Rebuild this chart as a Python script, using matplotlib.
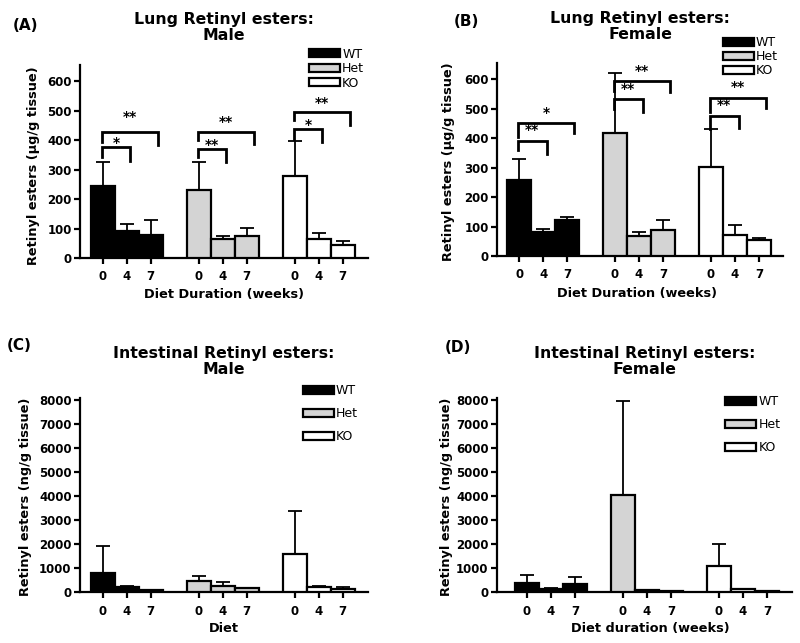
import matplotlib
matplotlib.use("Agg")
import matplotlib.pyplot as plt
from matplotlib.patches import Patch
import numpy as np

plt.rcParams['font.family'] = ['DejaVu Sans']

genotypes = ["WT", "Het", "KO"]
week_labels = ["0", "4", "7"]
fill_colors = ["black", "#d4d4d4", "white"]

# (A) Lung retinyl esters, male (ug/g tissue): mean and mean+SD per genotype, weeks 0/4/7
lung_male_mean = [[243, 90, 78], [230, 65, 73], [278, 63, 45]]
lung_male_top = [[325, 115, 128], [325, 75, 103], [397, 85, 57]]
# (B) Lung retinyl esters, female
lung_female_mean = [[258, 82, 122], [416, 68, 88], [303, 71, 54]]
lung_female_top = [[328, 90, 131], [621, 82, 122], [432, 105, 60]]
# (C) Intestinal retinyl esters, male (ng/g tissue)
int_male_mean = [[790, 200, 70], [440, 235, 150], [1580, 200, 125]]
int_male_top = [[1900, 250, 90], [680, 400, 180], [3370, 230, 200]]
# (D) Intestinal retinyl esters, female
int_female_mean = [[375, 125, 330], [4050, 80, 50], [1070, 110, 30]]
int_female_top = [[708, 150, 625], [7970, 100, 60], [2010, 130, 40]]

# significance brackets: (group, right bar, line height, left leg end, right leg end, label, label height)
brackets_A = [(0, 1, 376, 342, 329, "*", 392), (0, 2, 427, 393, 383, "**", 478),
              (1, 1, 369, 342, 325, "**", 385), (1, 2, 427, 400, 386, "**", 461),
              (2, 1, 437, 405, 393, "*", 453), (2, 2, 495, 468, 451, "**", 525)]
brackets_B = [(0, 1, 391, 359, 346, "**", 427), (0, 2, 453, 403, 418, "*", 486),
              (1, 1, 532, 500, 488, "**", 566), (1, 2, 593, 560, 556, "**", 627),
              (2, 1, 475, 432, 433, "**", 512), (2, 2, 538, 490, 504, "**", 574)]

fig = plt.figure(figsize=(8, 6.43), dpi=100)


def panel(rect, xlim, means, tops, ylim, yticks, ylabel, xlabel, title, brackets,
          leg_anchor, leg_spacing, title_y, ylabel_pos, xlabel_pos):
    ax = fig.add_axes(rect)
    for g in range(3):
        xs = np.array([4 * g + j for j in range(3)])
        m = np.array(means[g], dtype=float)
        t = np.array(tops[g], dtype=float)
        ax.bar(xs, m, width=1.0, color=fill_colors[g], edgecolor='black',
               linewidth=1.6, zorder=3)
        ax.errorbar(xs, m, yerr=[np.zeros(3), t - m], fmt='none', ecolor='black',
                    elinewidth=1.3, capsize=5, capthick=1.3, zorder=2)
    for (g, rb, y, lb, rbot, lab, ly) in brackets:
        x0 = 4 * g - 0.05
        x1 = 4 * g + rb + (0.15 if rb == 1 else 0.3)
        ax.plot([x0, x0, x1, x1], [lb, y, y, rbot], color='black', lw=2.0,
                solid_joinstyle='miter', zorder=4)
        ax.text((x0 + x1) / 2, ly, lab, ha='center', va='center', fontsize=10,
                fontweight='bold', zorder=5)
    ax.set_xlim(*xlim)
    ax.set_ylim(*ylim)
    ax.set_yticks(yticks)
    ax.set_xticks([4 * g + j for g in range(3) for j in range(3)])
    ax.set_xticklabels(week_labels * 3)
    for s in ['top', 'right']:
        ax.spines[s].set_visible(False)
    for s in ['left', 'bottom']:
        ax.spines[s].set_linewidth(1.6)
    ax.tick_params(axis='both', width=1.6, length=4, labelsize=8.5)
    ax.tick_params(axis='x', pad=5)
    ax.tick_params(axis='y', pad=2)
    for lbl in ax.get_xticklabels() + ax.get_yticklabels():
        lbl.set_fontweight('bold')
    ax.set_ylabel(ylabel, fontsize=9.3, fontweight='bold')
    ax.yaxis.label.set_va('center')
    ax.yaxis.set_label_coords(*ylabel_pos)
    ax.set_xlabel(xlabel, fontsize=9.3, fontweight='bold')
    ax.xaxis.label.set_va('center')
    ax.xaxis.set_label_coords(*xlabel_pos)
    ax.text(0.5, title_y, title, transform=ax.transAxes, ha='center', va='bottom',
            multialignment='center', fontsize=11.3, fontweight='bold', linespacing=1.05)
    handles = [Patch(facecolor=c, edgecolor='black', linewidth=1.6, label=l)
               for c, l in zip(fill_colors, genotypes)]
    ax.legend(handles=handles, loc='upper left', bbox_to_anchor=leg_anchor,
              frameon=False, fontsize=9, handlelength=2.5, handleheight=0.6,
              handletextpad=0.15, labelspacing=leg_spacing, borderpad=0,
              borderaxespad=0)
    return ax


lung_yticks = [0, 100, 200, 300, 400, 500, 600]
int_yticks = [0, 1000, 2000, 3000, 4000, 5000, 6000, 7000, 8000]

panel([0.1, 0.5988, 0.36, 0.300], (-0.95, 11.05), lung_male_mean, lung_male_top,
      (0, 655), lung_yticks, "Retinyl esters (µg/g tissue)", "Diet Duration (weeks)",
      "Lung Retinyl esters:\nMale", brackets_A, (0.795, 1.09), 0.12, 1.114,
      (-0.16, 0.48), (0.5, -0.187))
panel([0.62125, 0.6019, 0.3575, 0.300], (-0.92, 11.0), lung_female_mean, lung_female_top,
      (0, 655), lung_yticks, "Retinyl esters (µg/g tissue)", "Diet Duration (weeks)",
      "Lung Retinyl esters:\nFemale", brackets_B, (0.79, 1.14), 0.08, 1.109,
      (-0.17, 0.49), (0.49, -0.197))
panel([0.1, 0.0793, 0.36, 0.3017], (-0.95, 11.05), int_male_mean, int_male_top,
      (0, 8080), int_yticks, "Retinyl esters (ng/g tissue)", "Diet",
      "Intestinal Retinyl esters:\nMale", [], (0.774, 1.07), 0.8, 1.108,
      (-0.19, 0.49), (0.5, -0.186))
panel([0.62125, 0.0793, 0.369, 0.3017], (-1.25, 11.05), int_female_mean, int_female_top,
      (0, 8080), int_yticks, "Retinyl esters (ng/g tissue)", "Diet duration (weeks)",
      "Intestinal Retinyl esters:\nFemale", [], (0.773, 1.015), 0.8, 1.108,
      (-0.17, 0.49), (0.52, -0.186))

for lab, px, py in [("(A)", 25, 26), ("(B)", 466, 22), ("(C)", 19, 345), ("(D)", 458, 348)]:
    fig.text(px / 800, 1 - py / 643, lab, ha='center', va='center', fontsize=11,
             fontweight='bold')

fig.savefig("out.png", dpi=100)
